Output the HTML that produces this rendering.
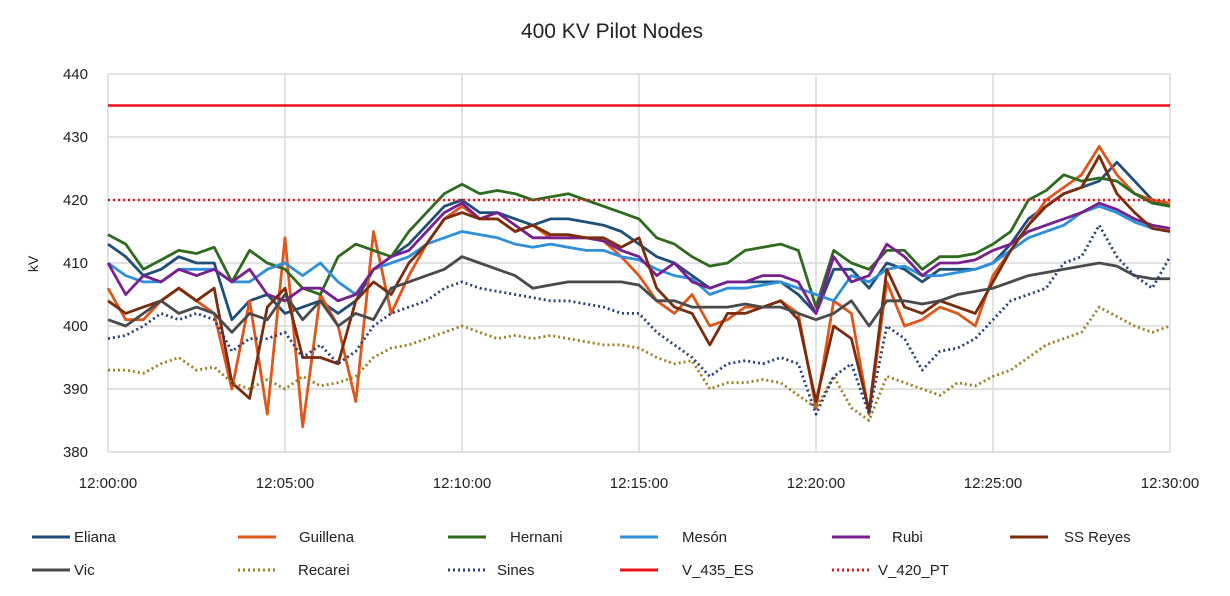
<!DOCTYPE html>
<html><head><meta charset="utf-8"><style>
body{margin:0;background:#fff;font-family:"Liberation Sans",sans-serif;}
svg text{font-family:"Liberation Sans",sans-serif;fill:#222;}
</style></head><body>
<svg width="1230" height="591" viewBox="0 0 1230 591">
<text x="612" y="38" text-anchor="middle" font-size="21">400 KV Pilot Nodes</text>
<g id="grid"></g><g id="axes"></g><g id="series"></g><g id="legend"></g>
<text x="38" y="264" font-size="14" transform="rotate(-90 38 264)" text-anchor="middle">kV</text>
</svg>
<script>
const yTicks=[380,390,400,410,420,430,440];
const xTickLabels=["12:00:00","12:05:00","12:10:00","12:15:00","12:20:00","12:25:00","12:30:00"];
const eliana=[413,411,408,409,411,410,410,401,404,405,402,403,404,402,404,409,411,413,416,419,420,418,418,417,416,417,417,416.5,416,415,413,411,410,408,406,407,407,407,407,405,402,409,409,406,410,409,407,409,409,409,410,413,417,419,421,422,423,426,423,420,419];
const guillena=[406,401,401,404,406,404,402,390,404,386,414,384,405,400,388,415,402,408,413,417,419,417,417,415,416,414,414,414,413.5,411,408,404,402,405,400,401,403,403,404,402,387,404,402,386,407,400,401,403,402,400,408,412,416,420,422,424,428.5,424,421,420,419.5];
const hernani=[414.5,413,409,410.5,412,411.5,412.5,407,412,410,409,406,405,411,413,412,411,415,418,421,422.5,421,421.5,421,420,420.5,421,420,419,418,417,414,413,411,409.5,410,412,412.5,413,412,403,412,410,409,412,412,409,411,411,411.5,413,415,420,421.5,424,423,423.5,423,421,419.5,419];
const meson=[410,408,407,407,409,409,409,407,407,409,410,408,410,407,405,409,410,411,413,414,415,414.5,414,413,412.5,413,412.5,412,412,411,410.5,409,408,407.5,405,406,406,406.5,407,406,405,404,408,407,409,409.5,408,408,408.5,409,410,412,414,415,416,418,419,418,416.5,415.5,415];
const rubi=[410,405,408,407,409,408,409,407,409,405,404,406,406,404,405,409,411,412,415,418,419.5,417,418,416,414,414,414,414,413.5,412,411,408,410,407,406,407,407,408,408,407,402,411,407,408,413,411,408,410,410,410.5,412,413,415,416,417,418,419.5,418.5,417,416,415.5];
const ssreyes=[404,402,403,404,406,404,406,391,388.5,403,406,395,395,394,404,407,405,410,413,417,418,417,417,415,416,414.5,414.5,414,414,412.5,414,406,403,402,397,402,402,403,404,401,388,400,398,386.5,409,403,402,404,403,402,407,412,416,419,421,422,427,421,418,415.5,415];
const vic=[401,400,402,404,402,403,402,399,402,401,405,401,404,400,402,401,406,407,408,409,411,410,409,408,406,406.5,407,407,407,407,406.5,404,404,403,403,403,403.5,403,403,402,401,402,404,400,404,404,403.5,404,405,405.5,406,407,408,408.5,409,409.5,410,409.5,408,407.5,407.5];
const recarei=[393,393,392.5,394,395,393,393.5,391,390,391.5,390,392,390.5,391,392,395,396.5,397,398,399,400,399,398,398.5,398,398.5,398,397.5,397,397,396.5,395,394,394.5,390,391,391,391.5,391,389,387,392,387,385,392,391,390,389,391,390.5,392,393,395,397,398,399,403,401.5,400,399,400];
const sines=[398,398.5,400,402,401,402,401,396,398,398,399,395,397,394,396,400,402,403,404,406,407,406,405.5,405,404.5,404,404,403.5,403,402,402,399,397,395,392,394,394.5,394,395,394,386,392,394,386,400,398,393,396,396.5,398,401,404,405,406,410,411,416,411,408,406,411];
const limitES=435, limitPT=420;
const seriesDefs=[
 ["Eliana",eliana,"#1f4e79",""],["Guillena",guillena,"#e0561b",""],["Hernani",hernani,"#2e6b1e",""],
 ["Mesón",meson,"#2f8fd8",""],["Rubi",rubi,"#7a1f8f",""],["SS Reyes",ssreyes,"#7b2c0c",""],
 ["Vic",vic,"#4a4a4a",""],["Recarei",recarei,"#9c7f1e","2 3"],["Sines",sines,"#2a3f7a","2 3"]];
const NS="http://www.w3.org/2000/svg";
const X0=108,X1=1170,Y0=452,Y1=74;
const xs=i=>X0+(X1-X0)*i/60;
const ys=v=>Y0-(v-380)/60*(Y0-Y1);
function mk(t,a,p){const e=document.createElementNS(NS,t);for(const k in a)e.setAttribute(k,a[k]);p.appendChild(e);return e;}
const grid=document.getElementById('grid'),axes=document.getElementById('axes');
yTicks.forEach(v=>{
 const l=mk('line',{x1:X0,x2:X1,y1:ys(v),y2:ys(v),stroke:'#d9d9d9','stroke-width':1.5},grid);
 
 
 const t=mk('text',{x:88,y:ys(v)+5,'text-anchor':'end','font-size':15},axes);t.textContent=v;
 
 
});
xTickLabels.forEach((s,i)=>{
 const x=xs(i*10);
 const l=mk('line',{x1:x,x2:x,y1:Y1,y2:Y0,stroke:'#d9d9d9','stroke-width':1.5},grid);
 
 
 const t=mk('text',{x:x,y:488,'text-anchor':'middle','font-size':15},axes);t.textContent=s;
 
 
});
const sg=document.getElementById('series');
seriesDefs.forEach(([n,d,c,dash])=>{
 const p=mk('polyline',{points:d.map((v,i)=>xs(i)+','+ys(v)).join(' '),fill:'none',stroke:c,'stroke-width':2.8,'stroke-dasharray':dash,'stroke-linejoin':'round'},sg);
 
 
});
const l1=mk('line',{x1:X0,x2:X1,y1:ys(limitES),y2:ys(limitES),stroke:'#e8141b','stroke-width':2.5},sg);


const l2=mk('line',{x1:X0,x2:X1,y1:ys(limitPT),y2:ys(limitPT),stroke:'#e8141b','stroke-width':2.5,'stroke-dasharray':'2 3'},sg);


const lg=document.getElementById('legend');
const leg=[["Eliana","#1f4e79","",32,537,74],["Guillena","#e0561b","",238,537,299],["Hernani","#2e6b1e","",448,537,510],["Mesón","#2f8fd8","",620,537,682],["Rubi","#7a1f8f","",832,537,892],["SS Reyes","#7b2c0c","",1010,537,1064],
["Vic","#4a4a4a","",32,570,74],["Recarei","#9c7f1e","2 3",238,570,298],["Sines","#2a3f7a","2 3",448,570,497],["V_435_ES","#e8141b","",620,570,682],["V_420_PT","#e8141b","2 3",832,570,878]];
leg.forEach(([n,c,dash,x,y,tx])=>{
 const g=mk('g',{},lg);
 
 
 mk('line',{x1:x,x2:x+38,y1:y,y2:y,stroke:c,'stroke-width':3,'stroke-dasharray':dash},g);
 const t=mk('text',{x:tx,y:y+5,'font-size':15},g);t.textContent=n;
});
</script>
</body></html>
